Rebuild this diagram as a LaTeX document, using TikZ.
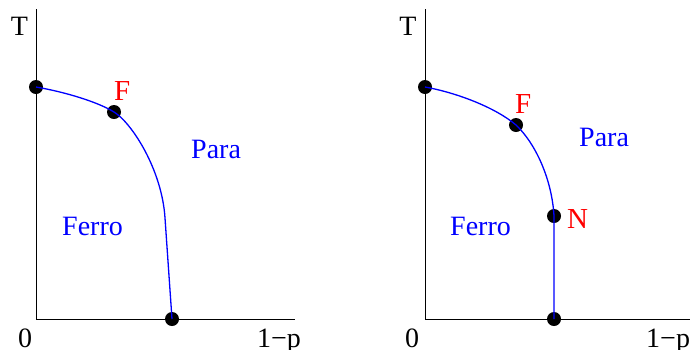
\documentclass[tikz,border=0pt]{standalone}
\usepackage{fontspec}
\setmainfont{Liberation Serif}
\usepackage{xcolor}
\usepackage{tikz}
\usetikzlibrary{positioning}

\begin{document}
\begin{tikzpicture}[
  x=1pt, y=-1pt,
  axisLine/.style={line width=1pt, black},
  phaseLine/.style={line width=1.3pt, blue},
  dotNode/.style={circle, fill=black, inner sep=0pt, minimum size=14pt},
  axisLabel/.style={anchor=base, inner sep=0pt, font=\fontsize{28}{30}\selectfont},
  phaseLabel/.style={anchor=base west, inner sep=0pt, text=blue, font=\fontsize{28}{30}\selectfont},
  pointLabel/.style={anchor=base west, inner sep=0pt, text=red, font=\fontsize{29}{30}\selectfont}
]
\useasboundingbox (0,0) rectangle (690,349);
% left panel
\coordinate (lTop) at (36,9);
\coordinate (lOrig) at (36,319);
\coordinate (lEnd) at (295,319);
\draw[axisLine] (lTop) -- (lOrig) -- (lEnd);
\node[axisLabel] (lT) at (19.5,35) {T};
\node[axisLabel] (lZero) at (25,347) {0};
\node[axisLabel, anchor=base west] (lX) at (257,347) {1−p};
\node[dotNode] (lA) at (36,87) {};
\node[dotNode] (lF) at (114,112) {};
\node[dotNode] (lB) at (172,319) {};
\draw[phaseLine] (lA.center) .. controls (65,92) and (98,102) .. (lF.center)
  .. controls (132,123) and (162,170) .. (165,218) -- (lB.center);
\node[pointLabel] (lFlab) at (114,100) {F};
\node[phaseLabel] (lPara) at (191,158) {Para};
\node[phaseLabel] (lFerro) at (62,235) {Ferro};
% right panel
\coordinate (rTop) at (425,9);
\coordinate (rOrig) at (425,319);
\coordinate (rEnd) at (690,319);
\draw[axisLine] (rTop) -- (rOrig) -- (rEnd);
\node[axisLabel] (rT) at (408,35) {T};
\node[axisLabel] (rZero) at (412,347) {0};
\node[axisLabel, anchor=base west] (rX) at (646,347) {1−p};
\node[dotNode] (rA) at (425,87) {};
\node[dotNode] (rF) at (516,125) {};
\node[dotNode] (rN) at (554,216) {};
\node[dotNode] (rB) at (554,319) {};
\draw[phaseLine] (rA.center) .. controls (458,93) and (496,108) .. (rF.center)
  .. controls (536,144) and (552,180) .. (rN.center) -- (rB.center);
\node[pointLabel] (rFlab) at (515,113) {F};
\node[pointLabel] (rNlab) at (567,228) {N};
\node[phaseLabel] (rPara) at (579,146) {Para};
\node[phaseLabel] (rFerro) at (450,235) {Ferro};
\end{tikzpicture}
\end{document}
